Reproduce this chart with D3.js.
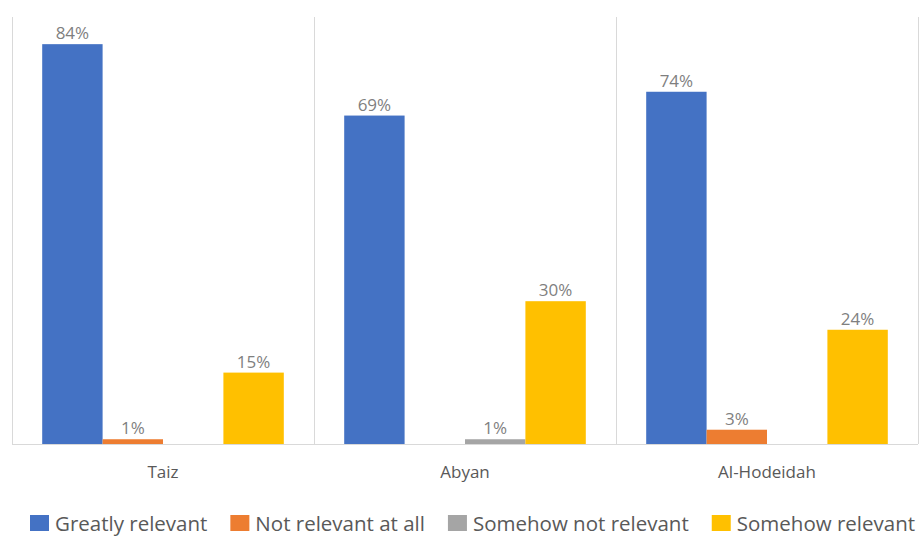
<!DOCTYPE html>
<html>
<head>
<meta charset="utf-8">
<script src="https://cdn.jsdelivr.net/npm/d3@7"></script>
<style>
  html, body { margin: 0; padding: 0; background: #ffffff; }
  svg { display: block; }
</style>
</head>
<body>
<svg id="chart" width="920" height="537"></svg>
<script>
// Regions compared in the survey
const categories = ["Taiz", "Abyan", "Al-Hodeidah"];

// Response options (one bar per option inside each region)
const seriesNames = ["Greatly relevant", "Not relevant at all", "Somehow not relevant", "Somehow relevant"];
const seriesColors = ["#4472C4", "#ED7D31", "#A5A5A5", "#FFC000"];

// Share of respondents (%) per region, one array per option; 0 = no answer given
const greatlyRelevant = [84, 69, 74];
const notRelevantAtAll = [1, 0, 3];
const somehowNotRelevant = [0, 1, 0];
const somehowRelevant = [15, 30, 24];

const seriesValues = [greatlyRelevant, notRelevantAtAll, somehowNotRelevant, somehowRelevant];

const svg = d3.select("#chart");
const font = "'Open Sans', 'Segoe UI', sans-serif";

const plot = { left: 12, right: 918, top: 17, bottom: 444 };

const x0 = d3.scaleBand()
  .domain(categories)
  .range([plot.left, plot.right])
  .paddingInner(0)
  .paddingOuter(0);

const groupPad = x0.bandwidth() * 0.1;
const x1 = d3.scaleBand()
  .domain(seriesNames)
  .range([groupPad, x0.bandwidth() - groupPad])
  .padding(0);

const y = d3.scaleLinear()
  .domain([0, 90])
  .range([plot.bottom, plot.bottom - 90 * 4.76]);

// vertical separators between region groups
const sepPositions = categories.map(c => x0(c)).concat([x0(categories[categories.length - 1]) + x0.bandwidth()]);
svg.append("g")
  .selectAll("line")
  .data(sepPositions)
  .join("line")
  .attr("x1", d => d + 0.5)
  .attr("x2", d => d + 0.5)
  .attr("y1", plot.top)
  .attr("y2", plot.bottom)
  .attr("stroke", "#d9d9d9")
  .attr("stroke-width", 1);

// baseline
svg.append("line")
  .attr("x1", plot.left)
  .attr("x2", plot.right)
  .attr("y1", plot.bottom + 0.5)
  .attr("y2", plot.bottom + 0.5)
  .attr("stroke", "#d9d9d9")
  .attr("stroke-width", 1);

// flatten into bar records
const bars = [];
categories.forEach((cat, ci) => {
  seriesNames.forEach((s, si) => {
    bars.push({ cat, series: s, color: seriesColors[si], value: seriesValues[si][ci] });
  });
});

const barG = svg.append("g");
barG.selectAll("rect")
  .data(bars.filter(d => d.value > 0))
  .join("rect")
  .attr("x", d => x0(d.cat) + x1(d.series))
  .attr("width", x1.bandwidth())
  .attr("y", d => y(d.value))
  .attr("height", d => y(0) - y(d.value))
  .attr("fill", d => d.color);

// value labels above bars
barG.selectAll("text")
  .data(bars.filter(d => d.value > 0))
  .join("text")
  .attr("x", d => x0(d.cat) + x1(d.series) + x1.bandwidth() / 2)
  .attr("y", d => y(d.value) - 5)
  .attr("text-anchor", "middle")
  .attr("font-family", font)
  .attr("font-size", 17)
  .attr("fill", "#7f7f7f")
  .text(d => d.value + "%");

// category axis labels
const xAxis = d3.axisBottom(x0).tickSize(0).tickPadding(0);
const axG = svg.append("g")
  .attr("transform", `translate(0,${plot.bottom})`)
  .call(xAxis);
axG.select(".domain").remove();
axG.selectAll("text")
  .attr("y", 34)
  .attr("dy", 0)
  .attr("font-family", font)
  .attr("font-size", 17)
  .attr("fill", "#595959");

// legend
const legend = svg.append("g").attr("transform", "translate(30,0)");
let lx = 0;
seriesNames.forEach((name, i) => {
  const item = legend.append("g").attr("transform", `translate(${lx},0)`);
  item.append("rect")
    .attr("x", 0).attr("y", 515)
    .attr("width", 19).attr("height", 16)
    .attr("fill", seriesColors[i]);
  const t = item.append("text")
    .attr("x", 25).attr("y", 531)
    .attr("font-family", font)
    .attr("font-size", 20.5)
    .attr("fill", "#595959")
    .text(name);
  lx += 25 + t.node().getComputedTextLength() + 23;
});
</script>
</body>
</html>
